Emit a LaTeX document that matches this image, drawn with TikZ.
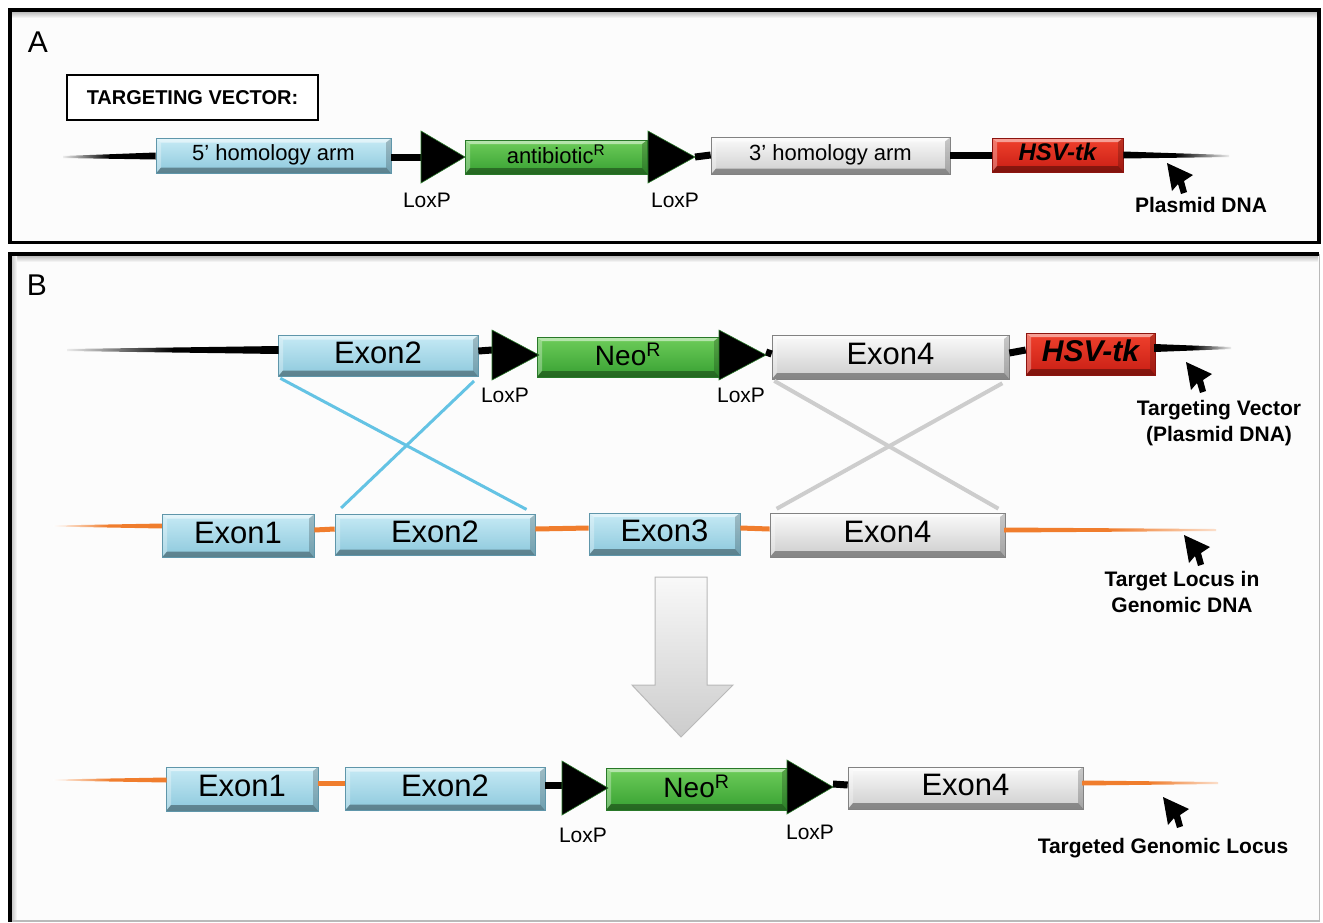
\documentclass[tikz,border=0pt]{standalone}
\usepackage{fontspec}
\setmainfont{Liberation Sans}
\usetikzlibrary{calc}
\definecolor{exT}{RGB}{198,234,245}
\definecolor{exB}{RGB}{140,200,220}
\definecolor{exE}{RGB}{95,150,170}
\definecolor{grT}{RGB}{250,250,250}
\definecolor{grB}{RGB}{205,205,205}
\definecolor{grE}{RGB}{130,130,130}
\definecolor{neT}{RGB}{110,205,90}
\definecolor{neB}{RGB}{55,160,50}
\definecolor{neE}{RGB}{40,120,40}
\definecolor{tkT}{RGB}{240,65,45}
\definecolor{tkB}{RGB}{200,30,20}
\definecolor{tkE}{RGB}{140,20,15}
\definecolor{orl}{RGB}{240,125,45}
\definecolor{xblue}{RGB}{100,195,228}
\definecolor{xgrey}{RGB}{205,205,205}
\definecolor{bgc}{RGB}{252,252,252}
\tikzset{
 bevel/.style={path picture={
   \fill[white,opacity=.5] (path picture bounding box.north west) -- (path picture bounding box.north east) -- ([shift={(-5pt,-4pt)}]path picture bounding box.north east) -- ([shift={(5pt,-4pt)}]path picture bounding box.north west) -- cycle;
   \fill[white,opacity=.3] (path picture bounding box.north west) -- (path picture bounding box.south west) -- ([shift={(5pt,6pt)}]path picture bounding box.south west) -- ([shift={(5pt,-4pt)}]path picture bounding box.north west) -- cycle;
   \fill[black,opacity=.35] (path picture bounding box.south west) -- (path picture bounding box.south east) -- ([shift={(-5pt,6pt)}]path picture bounding box.south east) -- ([shift={(5pt,6pt)}]path picture bounding box.south west) -- cycle;
   \fill[black,opacity=.2] (path picture bounding box.north east) -- (path picture bounding box.south east) -- ([shift={(-5pt,6pt)}]path picture bounding box.south east) -- ([shift={(-5pt,-4pt)}]path picture bounding box.north east) -- cycle;
 }},
 gene/.style={rectangle,inner sep=0pt,line width=0.7pt,bevel,text depth=6pt},
 exonb/.style={gene,top color=exT,bottom color=exB,draw=exE},
 exong/.style={gene,top color=grT,bottom color=grB,draw=grE},
 neob/.style={gene,top color=neT,bottom color=neB,draw=neE},
 tkb/.style={gene,top color=tkT,bottom color=tkB,draw=tkE},
 fa/.style={font=\fontsize{22}{26}\selectfont},
 fb/.style={font=\fontsize{31}{36}\selectfont},
 loxtri/.style={fill=black,draw=neE,line width=0.6pt,line join=miter},
 dnab/.style={line width=7pt,black},
 dnao/.style={line width=5pt,orl},
 lbl/.style={inner sep=0pt,font=\fontsize{21}{24}\selectfont},
 blbl/.style={inner sep=0pt,align=center,font=\bfseries\fontsize{21}{26}\selectfont},
 panel/.style={inner sep=0pt,font=\fontsize{30}{32}\selectfont},
 pointer/.pic={\fill[black] (0,0) -- (26,12) -- (17,18) -- (20,29) -- (14,31) -- (11,21) -- (5,28) -- cycle;}
}
\begin{document}
\begin{tikzpicture}[x=1pt,y=-1pt]
\useasboundingbox (0,0) rectangle (1323,922);
\fill[white] (0,0) rectangle (1323,922);
% ---------- frames
\fill[bgc] (10,10) rectangle (1319,242);
\shade[top color=gray!55,bottom color=bgc] (11,11.5) rectangle (1318,18);
\draw[line width=3.5pt] (10,10) rectangle (1319,242.5);
\fill[bgc] (10,254) rectangle (1319,921);
\shade[top color=gray!55,bottom color=bgc] (11,255.5) rectangle (1318,262);
\shade[left color=gray!45,right color=bgc] (11.5,256) rectangle (17,920);
\draw[gray!55,line width=1.2pt] (1319.5,254) -- (1319.5,921) -- (10,921);
\draw[line width=3.5pt] (1319,254) -- (10,254) -- (10,922);

% ================= Panel A
\node[panel] (labA) at (38,42) {A};
\node[draw,line width=2.5pt,fill=white,minimum width=251pt,minimum height=45pt,inner sep=0pt,font=\bfseries\fontsize{20}{24}\selectfont] (tv) at (192.5,97.5) {TARGETING VECTOR:};

\node[exonb,fa,minimum width=235pt,minimum height=35pt] (a5) at (273.5,156) {5' homology arm};
\node[neob,fa,minimum width=182pt,minimum height=34pt] (aab) at (556,157) {antibiotic\textsuperscript{R}};
\node[exong,fa,minimum width=239pt,minimum height=37pt] (a3) at (830.5,156) {3' homology arm};
\node[tkb,font=\bfseries\itshape\fontsize{24}{28}\selectfont,minimum width=131pt,minimum height=34pt] (atk) at (1057.5,155) {HSV-tk};

\coordinate (aS) at (63,157);
\coordinate (aE) at (1229,156);
\coordinate (lA1) at (421,157);
\coordinate (lA1t) at (465,157);
\coordinate (lA2) at (648,157);
\coordinate (lA2t) at (695,157);
\shade[left color=gray!15,right color=black,middle color=black] ([yshift=1pt]aS) -- ([yshift=3.5pt]a5.west) -- ([yshift=-3.5pt]a5.west) -- ([yshift=-1pt]aS) -- cycle;
\draw[dnab] ([yshift=-1pt]a5.east) -- (lA1);
\draw[dnab] (lA2t) -- ([yshift=1pt]a3.west);
\draw[dnab] ([yshift=1pt]a3.east) -- (atk.west);
\shade[left color=black,right color=gray!15,middle color=black] ([yshift=3.5pt]atk.east) -- ([yshift=1pt]aE) -- ([yshift=-1pt]aE) -- ([yshift=-3.5pt]atk.east) -- cycle;
\fill[loxtri] (lA1) ++(0,-26) -- (lA1t) -- ++(-44,26) -- cycle;
\fill[loxtri] (lA2) ++(0,-26) -- (lA2t) -- ++(-47,26) -- cycle;
\node[lbl] (xA1) at (427,200) {LoxP};
\node[lbl] (xA2) at (675,200) {LoxP};
\pic (cA) at (1167,163) {pointer};
\node[blbl] (pdA) at (1201,205) {Plasmid DNA};

% ================= Panel B
\node[panel] (labB) at (37,285) {B};

% row 1
\node[exonb,fb,minimum width=200pt,minimum height=41pt] (b2) at (378,356) {Exon2};
\node[neob,font=\fontsize{28}{32}\selectfont,minimum width=182pt,minimum height=40pt] (nb) at (628,357) {Neo\textsuperscript{R}};
\node[exong,fb,minimum width=237pt,minimum height=44pt] (b4) at (890.5,357) {Exon4};
\node[tkb,font=\bfseries\itshape\fontsize{30}{34}\selectfont,minimum width=129pt,minimum height=42pt] (btk) at (1090.5,354) {HSV-tk};

% row 2
\node[exonb,fb,minimum width=152pt,minimum height=43pt] (e1) at (238,536) {Exon1};
\node[exonb,fb,minimum width=200pt,minimum height=41pt] (e2) at (435,535) {Exon2};
\node[exonb,fb,minimum width=151pt,minimum height=42pt] (e3) at (664.5,534) {Exon3};
\node[exong,fb,minimum width=235pt,minimum height=44pt] (e4) at (887.5,535) {Exon4};

% crossovers
\draw[xblue,line width=3pt,shorten <=3pt,shorten >=10pt] (b2.south west) -- (e2.north east);
\draw[xblue,line width=3pt,shorten <=6pt,shorten >=9pt] (b2.south east) -- (e2.north west);
\draw[xgrey,line width=4pt,shorten <=3pt,shorten >=8pt] (b4.south west) -- (e4.north east);
\draw[xgrey,line width=4pt,shorten <=8pt,shorten >=8pt] (b4.south east) -- (e4.north west);

% row1 lines
\coordinate (bS) at (67,350);
\coordinate (bE) at (1231,348);
\coordinate (lB1) at (492,355);
\coordinate (lB1t) at (539,355);
\coordinate (lB2) at (719,355);
\coordinate (lB2t) at (766,355);
\shade[left color=gray!15,right color=black,middle color=black] ([yshift=1pt]bS) -- ([yshift=4pt,xshift=1pt]b2.west |- bS) -- ([yshift=-4pt,xshift=1pt]b2.west |- bS) -- ([yshift=-1pt]bS) -- cycle;
\draw[dnab] ([yshift=5pt]b2.east) -- ([yshift=5pt]lB1);
\draw[dnab] ([yshift=3pt]lB2t) -- ([yshift=3pt]b4.west);
\draw[dnab] ([yshift=4pt]b4.east) -- ([yshift=4pt]btk.west);
\shade[left color=black,right color=gray!15,middle color=black] ([yshift=4pt,xshift=-1pt]btk.east |- bE) -- ([yshift=1pt]bE) -- ([yshift=-1pt]bE) -- ([yshift=-4pt,xshift=-1pt]btk.east |- bE) -- cycle;
\fill[loxtri] (lB1) ++(0,-25) -- (lB1t) -- ++(-47,25) -- cycle;
\fill[loxtri] (lB2) ++(0,-25) -- (lB2t) -- ++(-47,25) -- cycle;
\node[lbl] (xB1) at (505,395) {LoxP};
\node[lbl] (xB2) at (741,395) {LoxP};
\pic (cB1) at (1186,362) {pointer};
\node[blbl] (tvB) at (1219,423) {Targeting Vector\\(Plasmid DNA)};

% row2 lines
\coordinate (eS) at (53,526);
\coordinate (eE) at (1216,530);
\shade[left color=white,right color=orl,middle color=orl] ([yshift=0.5pt]eS) -- ([yshift=2.5pt,xshift=1pt]e1.west |- eS) -- ([yshift=-2.5pt,xshift=1pt]e1.west |- eS) -- ([yshift=-0.5pt]eS) -- cycle;
\draw[dnao] ([yshift=6pt]e1.east) -- ([yshift=6pt]e2.west);
\draw[dnao] ([yshift=6pt]e2.east) -- ([yshift=6pt]e3.west);
\draw[dnao] ([yshift=6pt]e3.east) -- ([yshift=6pt]e4.west);
\shade[left color=orl,right color=orl!25,middle color=orl] ([yshift=2.5pt,xshift=-1pt]e4.east |- eE) -- ([yshift=1pt]eE) -- ([yshift=-1pt]eE) -- ([yshift=-2.5pt,xshift=-1pt]e4.east |- eE) -- cycle;
\pic (cB2) at (1184,535) {pointer};
\node[blbl] (tlB) at (1182,592) {Target Locus in\\Genomic DNA};

% big arrow
\shade[top color=gray!5,bottom color=gray!40,draw=gray!55,line width=1pt,line join=miter] (655,577) -- (707,577) -- (707,685) -- (733,685) -- (681,737) -- (632,685) -- (655,685) -- cycle;

% row 3
\node[exonb,fb,minimum width=152pt,minimum height=44pt] (f1) at (242,789) {Exon1};
\node[exonb,fb,minimum width=200pt,minimum height=43pt] (f2) at (445,789) {Exon2};
\node[neob,font=\fontsize{28}{32}\selectfont,minimum width=181pt,minimum height=42pt] (nc) at (696.5,789) {Neo\textsuperscript{R}};
\node[exong,fb,minimum width=235pt,minimum height=42pt] (f4) at (965.5,788) {Exon4};
\coordinate (fS) at (53,780);
\coordinate (fE) at (1218,783);
\coordinate (lC1) at (562,788);
\coordinate (lC1t) at (608,788);
\coordinate (lC2) at (787,787);
\coordinate (lC2t) at (833,787);
\shade[left color=white,right color=orl,middle color=orl] ([yshift=0.5pt]fS) -- ([yshift=2.5pt,xshift=1pt]f1.west |- fS) -- ([yshift=-2.5pt,xshift=1pt]f1.west |- fS) -- ([yshift=-0.5pt]fS) -- cycle;
\draw[dnao] ([yshift=6pt]f1.east) -- ([yshift=6pt]f2.west);
\draw[dnab] ([yshift=4pt]f2.east) -- ([yshift=3pt]lC1);
\draw[dnab] ([yshift=3pt]lC2t) -- ([yshift=3pt]f4.west);
\shade[left color=orl,right color=orl!25,middle color=orl] ([yshift=2.5pt,xshift=-1pt]f4.east |- fE) -- ([yshift=1pt]fE) -- ([yshift=-1pt]fE) -- ([yshift=-2.5pt,xshift=-1pt]f4.east |- fE) -- cycle;
\fill[loxtri] (lC1) ++(0,-27) -- (lC1t) -- ++(-46,27) -- cycle;
\fill[loxtri] (lC2) ++(0,-27) -- (lC2t) -- ++(-46,27) -- cycle;
\node[lbl] (xC1) at (583,835) {LoxP};
\node[lbl] (xC2) at (810,832) {LoxP};
\pic (cC) at (1163,797) {pointer};
\node[blbl] (tgC) at (1163,848) {Targeted Genomic Locus};
\end{tikzpicture}
\end{document}
